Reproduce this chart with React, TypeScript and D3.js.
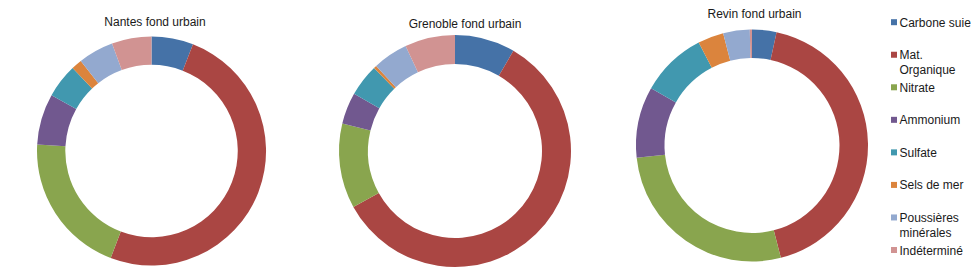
import React from "react";
import * as d3 from "d3";

// Composition categories (legend order = slice order, clockwise from 12 o'clock)
const categories: string[][] = [
  ["Carbone suie"],
  ["Mat.", "Organique"],
  ["Nitrate"],
  ["Ammonium"],
  ["Sulfate"],
  ["Sels de mer"],
  ["Poussières", "minérales"],
  ["Indéterminé"],
];

const colors = ["#4572A7", "#AA4643", "#89A54E", "#71588F", "#4198AF", "#DB843D", "#93A9CF", "#D19392"];

// Shares (%) per site
const nantes = [5.9, 49.9, 20.1, 7.2, 4.8, 1.5, 5.0, 5.6];
const grenoble = [8.4, 58.6, 11.8, 4.4, 4.5, 0.4, 4.9, 7.0];
const revin = [3.4, 42.6, 27.3, 9.9, 9.2, 3.6, 3.7, 0.3];

const titles = ["Nantes fond urbain", "Grenoble fond urbain", "Revin fond urbain"];

const panels = [
  { title: titles[0], values: nantes, cx: 151.5, cy: 151, r: 114.5, ri: 86.2, tx: 155, ty: 25.5 },
  { title: titles[1], values: grenoble, cx: 455, cy: 151, r: 116, ri: 87, tx: 465, ty: 27.5 },
  { title: titles[2], values: revin, cx: 752, cy: 145.5, r: 116, ri: 87.5, tx: 754.5, ty: 18.3 },
];

const FONT = "'Liberation Sans', Arial, sans-serif";

function Donut({ p }: { p: (typeof panels)[number] }) {
  const pie = d3.pie<number>().sort(null).value((d) => d);
  const arc = d3.arc<d3.PieArcDatum<number>>().innerRadius(p.ri).outerRadius(p.r);
  const arcs = pie(p.values);
  return (
    <g>
      <text x={p.tx} y={p.ty} textAnchor="middle" fontSize={12} fill="#1a1a1a" fontFamily={FONT}>
        {p.title}
      </text>
      <g transform={`translate(${p.cx},${p.cy})`}>
        {arcs.map((a, i) => (
          <path key={i} d={arc(a) || ""} fill={colors[i]} />
        ))}
      </g>
    </g>
  );
}

export default function App() {
  const legendY = d3.scalePoint<number>().domain(d3.range(categories.length)).range([26.7, 254.5]);
  return (
    <svg
      width={977}
      height={274}
      style={{ position: "absolute", left: 0, top: 0, background: "#fff" }}
      fontFamily={FONT}
    >
      <rect width={977} height={274} fill="#fff" />
      {panels.map((p) => (
        <Donut key={p.title} p={p} />
      ))}
      <g>
        {categories.map((lines, i) => {
          const y = legendY(i) as number;
          return (
            <g key={i}>
              <rect x={891} y={y - 7.5} width={6} height={6} fill={colors[i]} />
              <text x={899.5} y={y} fontSize={12} fill="#1a1a1a">
                {lines.map((l, j) => (
                  <tspan key={j} x={899.5} dy={j === 0 ? 0 : 15}>
                    {l}
                  </tspan>
                ))}
              </text>
            </g>
          );
        })}
      </g>
    </svg>
  );
}
